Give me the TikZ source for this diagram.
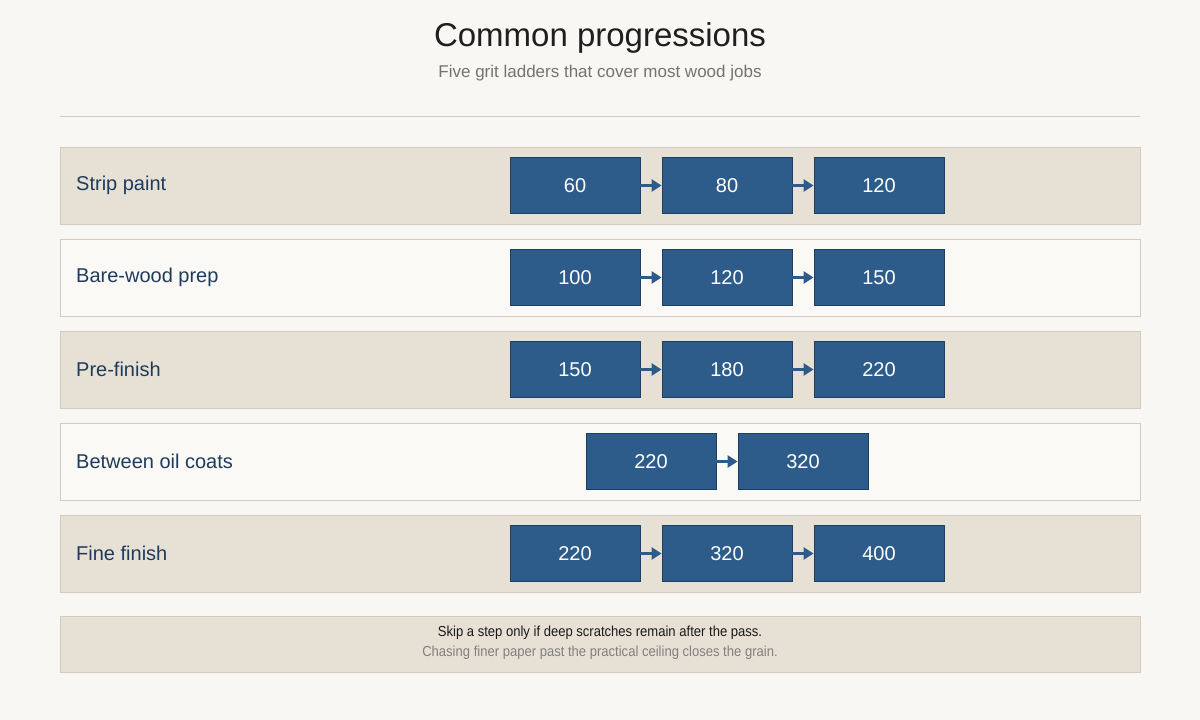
\documentclass[tikz,border=0pt]{standalone}
\usepackage{fontspec}
\setmainfont{Liberation Sans}
\newfontfamily\narrowfont[FakeStretch=0.9]{Liberation Sans}
\usetikzlibrary{arrows.meta}
\definecolor{paper}{HTML}{F8F7F3}
\definecolor{tanfill}{HTML}{E7E1D5}
\definecolor{plainfill}{HTML}{FAF9F6}
\definecolor{bandline}{HTML}{D3CCBE}
\definecolor{gritfill}{HTML}{2E5C8A}
\definecolor{gritline}{HTML}{1E3F60}
\definecolor{jobtext}{HTML}{1F3B5C}
\definecolor{rulegray}{HTML}{CFCDC6}

\begin{document}
\begin{tikzpicture}[x=1pt,y=-1pt,
	band/.style={draw=bandline, line width=0.8pt, minimum width=1080pt,
		minimum height=77pt, inner sep=0pt},
	tan/.style={band, fill=tanfill},
	plain/.style={band, fill=plainfill},
	grit/.style={draw=gritline, line width=0.8pt, fill=gritfill, text=white,
		minimum width=130pt, minimum height=56pt, inner sep=0pt,
		font=\fontsize{20}{24}\selectfont},
	job/.style={anchor=west, text=jobtext, inner sep=0pt,
		font=\fontsize{20}{24}\selectfont},
	goes/.style={draw=gritfill, line width=3.2pt,
		-{Triangle[length=10pt,width=12pt]}}]
	\fill[paper] (0,0) rectangle (1200,720);
	\useasboundingbox (0,0) rectangle (1200,720);
	% heading
	\node[text=black!88, font=\fontsize{33}{38}\selectfont] (title) at (600,38) {Common progressions};
	\node[text=black!55, font=\fontsize{17}{20}\selectfont] (subtitle) at (600,73) {Five grit ladders that cover most wood jobs};
	\coordinate (ruleL) at (60,116);
	\coordinate (ruleR) at (1140,116);
	\draw[rulegray, line width=1pt] (ruleL) -- (ruleR);
	% ladders
	\foreach \job/\look/\xo/\grits [count=\r] in {
		Strip paint/tan/575/{60,80,120},
		Bare-wood prep/plain/575/{100,120,150},
		Pre-finish/tan/575/{150,180,220},
		Between oil coats/plain/651/{220,320},
		Fine finish/tan/575/{220,320,400}}
	{
		\pgfmathsetmacro\yy{185.5+92*(\r-1)}
		\node[\look] (row\r) at (600,\yy) {};
		\node[job] (job\r) at (76,\yy) {\job};
		\foreach \g [count=\i] in \grits {
			\node[grit] (g\r-\i) at ({\xo+152*(\i-1)},\yy) {\g};
		}
		\foreach \g [count=\i] in \grits {
			\ifnum\i>1
				\pgfmathtruncatemacro\p{\i-1}
				\draw[goes] (g\r-\p.east) -- (g\r-\i.west);
			\fi
		}
	}
	% note
	\node[tan, minimum height=56pt] (note) at (600,644) {};
	\node[text=black!90, font=\narrowfont\fontsize{14.5}{17}\selectfont] (noteA) at (600,633) {Skip a step only if deep scratches remain after the pass.};
	\node[text=black!50, font=\narrowfont\fontsize{14.5}{17}\selectfont] (noteB) at (600,653) {Chasing finer paper past the practical ceiling closes the grain.};
\end{tikzpicture}
\end{document}
